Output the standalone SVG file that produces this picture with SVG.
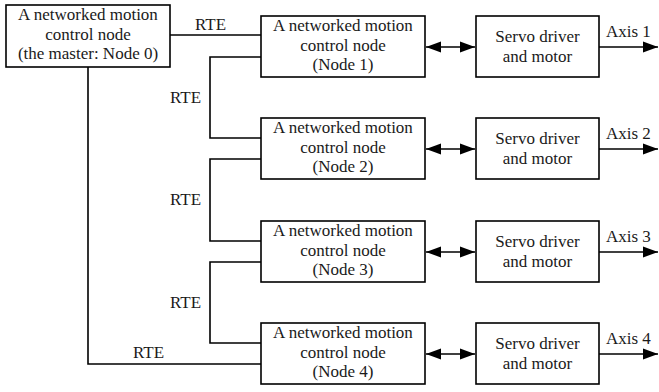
<svg xmlns="http://www.w3.org/2000/svg" width="659" height="392" viewBox="0 0 659 392" font-family="Liberation Serif, Times New Roman, serif">
<style>
.box{fill:#fff;stroke:#000;stroke-width:1.6}
.ln{fill:none;stroke:#000;stroke-width:1.6}
text{font-size:17px;fill:#1a1a1a;text-anchor:middle}
.lbl{text-anchor:start}
</style>
<defs>
<marker id="ah" markerUnits="userSpaceOnUse" markerWidth="16" markerHeight="12" refX="15" refY="6" orient="auto-start-reverse">
<path d="M0,0.5 L15,6 L0,11.5 Z" fill="#000"/>
</marker>
</defs>
<g id="connectors">
<path class="ln" d="M170,35 H261"/>
<path class="ln" d="M261,57 H210 V138 H261"/>
<path class="ln" d="M261,159 H210 V241 H261"/>
<path class="ln" d="M261,262 H210 V343 H261"/>
<path class="ln" d="M88,67 V364 H261"/>
<path class="ln" d="M426,47 H475" marker-start="url(#ah)" marker-end="url(#ah)"/>
<path class="ln" d="M426,149 H475" marker-start="url(#ah)" marker-end="url(#ah)"/>
<path class="ln" d="M426,252 H475" marker-start="url(#ah)" marker-end="url(#ah)"/>
<path class="ln" d="M426,354 H475" marker-start="url(#ah)" marker-end="url(#ah)"/>
<path class="ln" d="M599,47 H658" marker-end="url(#ah)"/>
<path class="ln" d="M599,149 H658" marker-end="url(#ah)"/>
<path class="ln" d="M599,252 H658" marker-end="url(#ah)"/>
<path class="ln" d="M599,354 H658" marker-end="url(#ah)"/>
<text class="lbl" x="195" y="30">RTE</text>
<text class="lbl" x="170" y="103">RTE</text>
<text class="lbl" x="170" y="205">RTE</text>
<text class="lbl" x="170" y="308">RTE</text>
<text class="lbl" x="133" y="358">RTE</text>
<text class="lbl" x="606" y="37">Axis 1</text>
<text class="lbl" x="606" y="139">Axis 2</text>
<text class="lbl" x="606" y="242">Axis 3</text>
<text class="lbl" x="606" y="344">Axis 4</text>
</g>
<g id="node0">
<rect class="box" x="6" y="5" width="164" height="62"/>
<text x="88" y="20">A networked motion</text>
<text x="88" y="40">control node</text>
<text x="88" y="59">(the master: Node 0)</text>
</g>
<g id="node1">
<rect class="box" x="261" y="16" width="164" height="61"/>
<text x="343" y="31">A networked motion</text>
<text x="343" y="51">control node</text>
<text x="343" y="70">(Node 1)</text>
</g>
<g id="node2">
<rect class="box" x="261" y="118" width="164" height="61"/>
<text x="343" y="133">A networked motion</text>
<text x="343" y="153">control node</text>
<text x="343" y="172">(Node 2)</text>
</g>
<g id="node3">
<rect class="box" x="261" y="221" width="164" height="61"/>
<text x="343" y="236">A networked motion</text>
<text x="343" y="256">control node</text>
<text x="343" y="275">(Node 3)</text>
</g>
<g id="node4">
<rect class="box" x="261" y="323" width="164" height="61"/>
<text x="343" y="338">A networked motion</text>
<text x="343" y="358">control node</text>
<text x="343" y="377">(Node 4)</text>
</g>
<g id="servo1">
<rect class="box" x="476" y="16" width="123" height="61"/>
<text x="537.5" y="42">Servo driver</text>
<text x="537.5" y="62">and motor</text>
</g>
<g id="servo2">
<rect class="box" x="476" y="118" width="123" height="61"/>
<text x="537.5" y="144">Servo driver</text>
<text x="537.5" y="164">and motor</text>
</g>
<g id="servo3">
<rect class="box" x="476" y="221" width="123" height="61"/>
<text x="537.5" y="247">Servo driver</text>
<text x="537.5" y="267">and motor</text>
</g>
<g id="servo4">
<rect class="box" x="476" y="323" width="123" height="61"/>
<text x="537.5" y="349">Servo driver</text>
<text x="537.5" y="369">and motor</text>
</g>
</svg>
